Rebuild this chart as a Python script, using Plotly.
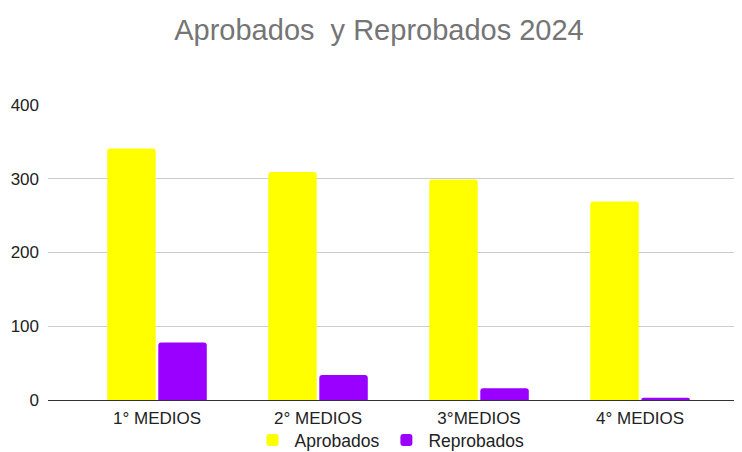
import plotly.graph_objects as go

categories = ["1° MEDIOS", "2° MEDIOS", "3°MEDIOS", "4° MEDIOS"]
aprobados = [341, 309, 299, 269]
reprobados = [78, 34, 16, 3]
y_ticks = [0, 100, 200, 300, 400]

# page body has an 8px margin; figure is sized to fill the rest of the window
W, H = 734, 444

fig = go.Figure()
fig.add_trace(go.Bar(x=categories, y=aprobados, name="Aprobados",
                     marker=dict(color="#ffff00", line=dict(width=0))))
fig.add_trace(go.Bar(x=categories, y=reprobados, name="Reprobados",
                     marker=dict(color="#9900ff", line=dict(width=0))))

fig.update_layout(
    width=W, height=H,
    margin=dict(l=40, r=1, t=97, b=52, autoexpand=False),
    paper_bgcolor="white", plot_bgcolor="white",
    barmode="group", bargap=0.366, bargroupgap=0.05,
    barcornerradius=3,
    font=dict(family="Liberation Sans, Arial, sans-serif", size=17, color="#222222"),
    title=dict(text="Aprobados\u00a0 y Reprobados 2024", x=371 / W, xref="container",
               xanchor="center", y=1 - 22 / H, yanchor="middle", yref="container",
               font=dict(size=29, color="#757575")),
    legend=dict(orientation="h", x=382 / W, xref="container", xanchor="center",
                y=1 - 432 / H, yref="container", yanchor="middle",
                font=dict(size=17.5, color="#222222"), itemwidth=34,
                bgcolor="rgba(0,0,0,0)", traceorder="normal"),
    showlegend=True,
)
fig.update_xaxes(range=[-0.677, 3.627], showgrid=False, ticks="", showline=False,
                 tickfont=dict(size=17, color="#222222"), ticklabelstandoff=6)
fig.update_yaxes(range=[0, 400], tickvals=y_ticks, showgrid=True, gridcolor="#cccccc",
                 gridwidth=1, zeroline=True, zerolinecolor="#333333", zerolinewidth=1,
                 ticks="", showline=False, tickfont=dict(size=17, color="#222222"),
                 ticklabelstandoff=8)

fig.write_html("out.html")
